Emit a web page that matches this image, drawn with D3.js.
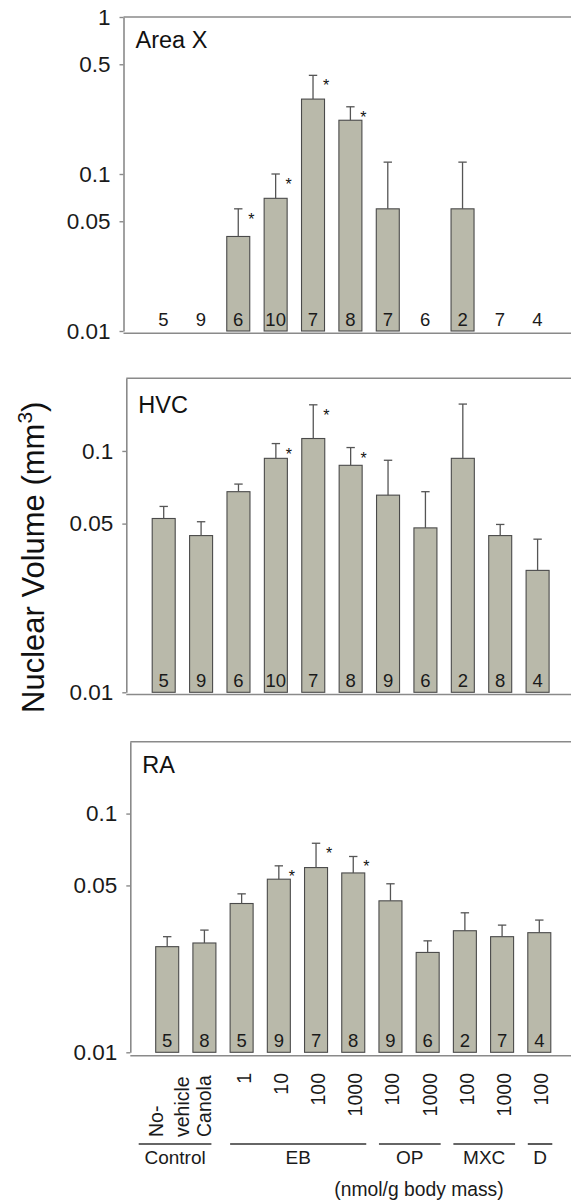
<!DOCTYPE html>
<html>
<head>
<meta charset="utf-8">
<script src="https://cdn.jsdelivr.net/npm/d3@7"></script>
<style>
  html, body { margin: 0; padding: 0; background: #fff; }
  svg { display: block; font-family: Arial, "Liberation Sans", sans-serif; }
</style>
</head>
<body>
<svg id="chart" width="571" height="1201"></svg>
<script>
// ---------------- DATA ----------------
const categories = ["No-vehicle", "Canola", "1", "10", "100", "1000", "100", "1000", "100", "1000", "100"];
const groupNames = ["Control", "EB", "OP", "MXC", "D"];
const groupFirst = [0, 2, 6, 8, 10];
const groupLast = [1, 5, 7, 9, 10];

const areaXMean  = [null, null, 0.040, 0.070, 0.300, 0.220, 0.060, null, 0.060, null, null];
const areaXUpper = [null, null, 0.060, 0.100, 0.425, 0.268, 0.119, null, 0.119, null, null];
const areaXN     = [5, 9, 6, 10, 7, 8, 7, 6, 2, 7, 4];
const areaXSig   = [false, false, true, true, true, true, false, false, false, false, false];

const hvcMean  = [0.0525, 0.0446, 0.0678, 0.0932, 0.1126, 0.0872, 0.0656, 0.0480, 0.0932, 0.0446, 0.0320];
const hvcUpper = [0.0589, 0.0509, 0.0729, 0.1073, 0.1553, 0.1033, 0.0915, 0.0678, 0.1564, 0.0496, 0.0431];
const hvcN     = [5, 9, 6, 10, 7, 8, 9, 6, 2, 8, 4];
const hvcSig   = [false, false, false, true, true, true, false, false, false, false, false];

const raMean  = [0.0277, 0.0287, 0.0420, 0.0531, 0.0594, 0.0564, 0.0431, 0.0262, 0.0323, 0.0305, 0.0317];
const raUpper = [0.0305, 0.0325, 0.0461, 0.0604, 0.0751, 0.0661, 0.0508, 0.0293, 0.0384, 0.0341, 0.0358];
const raN     = [5, 8, 5, 9, 7, 8, 9, 6, 2, 7, 4];
const raSig   = [false, false, false, true, true, true, false, false, false, false, false];

const ticksAreaX = [0.01, 0.05, 0.1, 0.5, 1];
const ticksSmall = [0.01, 0.05, 0.1];
const yMaxAreaX = 1;
const yMaxSmall = 0.2;

// ---------------- LAYOUT ----------------
const W = 571;
const panels = [
  { title: "Area X", mean: areaXMean, upper: areaXUpper, n: areaXN, sig: areaXSig, ticks: ticksAreaX, ymax: yMaxAreaX,
    axisX: 123.5, c0: 163.5, step: 37.38, yBot: 331, yTop: 17, baseLine: 333.3, titleY: 48 },
  { title: "HVC", mean: hvcMean, upper: hvcUpper, n: hvcN, sig: hvcSig, ticks: ticksSmall, ymax: yMaxSmall,
    axisX: 126.3, c0: 163.7, step: 37.39, yBot: 692.3, yTop: 378.3, baseLine: 694.5, titleY: 413 },
  { title: "RA", mean: raMean, upper: raUpper, n: raN, sig: raSig, ticks: ticksSmall, ymax: yMaxSmall,
    axisX: 130.3, c0: 167.2, step: 37.21, yBot: 1052.3, yTop: 741.7, baseLine: 1055.7, titleY: 773 }
];
const barW = 23;
const frameColor = "#8a8a8a";
const barFill = "#b9b9aa";
const barStroke = "#4a4a4a";
const textColor = "#1a1a1a";

const svg = d3.select("#chart");
const idx = d3.range(categories.length);
const fmt = v => (v >= 1 ? "1" : String(v));

let lastX = null;
panels.forEach(p => {
  const pi = 1 - barW / p.step;
  const x = d3.scaleBand()
    .domain(idx)
    .range([p.c0 - p.step / 2, p.c0 + (categories.length - 0.5) * p.step])
    .paddingInner(pi)
    .paddingOuter(pi / 2);
  lastX = x;
  const y = d3.scaleLog().domain([0.01, p.ymax]).range([p.yBot, p.yTop]);
  const g = svg.append("g");

  // frame: top and bottom lines
  g.append("line").attr("x1", p.axisX).attr("x2", W).attr("y1", y(p.ymax)).attr("y2", y(p.ymax))
    .attr("stroke", frameColor).attr("stroke-width", 1.6);
  g.append("line").attr("x1", p.axisX).attr("x2", W).attr("y1", p.baseLine).attr("y2", p.baseLine)
    .attr("stroke", frameColor).attr("stroke-width", 1.6);

  // y axis
  const ax = g.append("g").attr("transform", `translate(${p.axisX},0)`)
    .call(d3.axisLeft(y).tickValues(p.ticks).tickFormat(fmt).tickSize(4).tickPadding(9).tickSizeOuter(0));
  ax.select(".domain").attr("stroke", frameColor).attr("stroke-width", 1.6);
  ax.selectAll(".tick line").attr("stroke", frameColor).attr("stroke-width", 1.4);
  ax.selectAll(".tick text").attr("font-size", 22.5).attr("fill", textColor)
    .attr("font-family", "Arial, 'Liberation Sans', sans-serif");

  // panel title
  g.append("text").attr("x", p.axisX + 12).attr("y", p.titleY).text(p.title)
    .attr("font-size", 23.5).attr("fill", "#111");

  // bars
  const cx = i => x(i) + x.bandwidth() / 2;
  const withBar = idx.filter(i => p.mean[i] != null);
  g.selectAll("rect.bar").data(withBar).join("rect")
    .attr("x", i => x(i)).attr("width", x.bandwidth())
    .attr("y", i => y(p.mean[i])).attr("height", i => y(0.01) - y(p.mean[i]))
    .attr("fill", barFill).attr("stroke", barStroke).attr("stroke-width", 1.1);

  // error bars (upper)
  g.selectAll("line.err").data(withBar).join("line")
    .attr("x1", cx).attr("x2", cx)
    .attr("y1", i => y(p.mean[i])).attr("y2", i => y(p.upper[i]))
    .attr("stroke", "#555").attr("stroke-width", 1.3);
  g.selectAll("line.cap").data(withBar).join("line")
    .attr("x1", i => cx(i) - 4.2).attr("x2", i => cx(i) + 4.2)
    .attr("y1", i => y(p.upper[i])).attr("y2", i => y(p.upper[i]))
    .attr("stroke", "#555").attr("stroke-width", 1.3);

  // significance stars
  g.selectAll("text.star").data(idx.filter(i => p.sig[i])).join("text")
    .attr("x", i => x(i) + x.bandwidth() + 1.5)
    .attr("y", i => y(p.upper[i]) + 16)
    .attr("text-anchor", "middle").attr("font-size", 16).attr("fill", "#111").text("*");

  // n labels
  g.selectAll("text.n").data(idx).join("text")
    .attr("x", cx).attr("y", y(0.01) - 5)
    .attr("text-anchor", "middle").attr("font-size", 18.5).attr("fill", textColor)
    .text(i => p.n[i]);
});

// ---------------- X LABELS ----------------
const x = lastX;
const cx = i => x(i) + x.bandwidth() / 2;
const xl = svg.append("g");
idx.forEach(i => {
  const c = cx(i) + 2;
  if (i === 0) {
    const parts = ["No-", "vehicle"];
    parts.forEach((t, k) => {
      xl.append("text")
        .attr("transform", `translate(${c - 13 + k * 26 + 7},1137) rotate(-90)`)
        .attr("text-anchor", "start").attr("font-size", 19.5).attr("fill", textColor).text(t);
    });
  } else if (i === 1) {
    xl.append("text")
      .attr("transform", `translate(${c + 5},1137) rotate(-90)`)
      .attr("text-anchor", "start").attr("font-size", 19.5).attr("fill", textColor).text(categories[i]);
  } else {
    xl.append("text")
      .attr("transform", `translate(${c + 7},1073) rotate(-90)`)
      .attr("text-anchor", "end").attr("font-size", 19.5).attr("fill", textColor).text(categories[i]);
  }
});

// group lines and labels
groupNames.forEach((name, k) => {
  const a = k === 0 ? cx(groupFirst[k]) - 28.5 : cx(groupFirst[k]) - 11.5;
  const b = cx(groupLast[k]) + (k === 0 ? 7 : 13);
  xl.append("line").attr("x1", a).attr("x2", b).attr("y1", 1144).attr("y2", 1144)
    .attr("stroke", "#333").attr("stroke-width", 1.6);
  xl.append("text").attr("x", (a + b) / 2).attr("y", 1164)
    .attr("text-anchor", "middle").attr("font-size", 19).attr("fill", textColor).text(name);
});

xl.append("text").attr("x", 419).attr("y", 1196).attr("text-anchor", "middle")
  .attr("font-size", 19.3).attr("fill", textColor).text("(nmol/g body mass)");

// y title
const yt = svg.append("text")
  .attr("transform", "translate(44,713) rotate(-90)")
  .attr("text-anchor", "start").attr("font-size", 31).attr("fill", "#111");
yt.append("tspan").text("Nuclear Volume (mm");
yt.append("tspan").attr("font-size", 21).attr("dy", "-0.55em").text("3");
yt.append("tspan").attr("dy", "0.37em").text(")");
</script>
</body>
</html>
